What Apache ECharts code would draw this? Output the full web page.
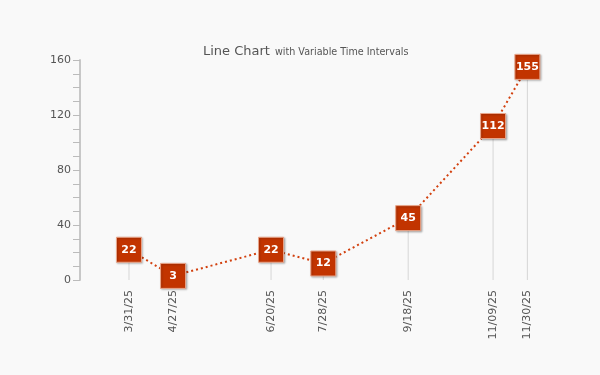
<!DOCTYPE html>
<html>
<head>
<meta charset="utf-8">
<script src="https://cdn.jsdelivr.net/npm/echarts@6/dist/echarts.min.js"></script>
<style>
html,body{margin:0;padding:0;background:#f9f9f9;}
#chart{width:600px;height:375px;}
</style>
</head>
<body>
<div id="chart"></div>
<script>
// Data
const pointDates = ['2025-03-31', '2025-04-27', '2025-06-26', '2025-07-28', '2025-09-18', '2025-11-09', '2025-11-30'];
const tickLabels = ['3/31/25', '4/27/25', '6/20/25', '7/28/25', '9/18/25', '11/09/25', '11/30/25'];
const values = [22, 3, 22, 12, 45, 112, 155];
const yTicks = [0, 40, 80, 120, 160];

function toTime(s) {
  const p = s.split('-').map(Number);
  return Date.UTC(p[0], p[1] - 1, p[2]);
}
const times = pointDates.map(toTime);
const seriesData = times.map((t, i) => [t, values[i]]);

const chart = echarts.init(document.getElementById('chart'));
const FONT = 'DejaVu Sans';
chart.setOption({
  backgroundColor: '#f9f9f9',
  animation: false,
  title: {
    text: '{a|Line Chart} {b|with Variable Time Intervals}',
    left: 198,
    top: 38,
    textStyle: {
      rich: {
        a: { fontFamily: FONT, fontSize: 13, color: '#555', fontWeight: 'normal' },
        b: { fontFamily: FONT, fontSize: 9.6, color: '#555', fontWeight: 'normal' }
      }
    }
  },
  grid: { left: 80, right: 22, top: 60, bottom: 95 },
  xAxis: {
    type: 'value',
    min: toTime('2025-03-01'),
    max: toTime('2025-12-31'),
    axisLine: { show: false },
    axisTick: { show: false },
    splitLine: { show: false },
    axisLabel: {
      customValues: times,
      rotate: 90,
      margin: 10,
      fontFamily: FONT,
      fontSize: 11,
      color: '#555',
      formatter: function (v) {
        const i = times.indexOf(v);
        return i >= 0 ? tickLabels[i] : '';
      }
    }
  },
  yAxis: {
    type: 'value',
    min: yTicks[0],
    max: yTicks[yTicks.length - 1],
    interval: 40,
    axisLine: { show: true, lineStyle: { color: '#c8c8c8', width: 2 } },
    axisTick: { show: true, length: 7, lineStyle: { color: '#bbb', width: 1 } },
    minorTick: { show: true, splitNumber: 4, length: 7, lineStyle: { color: '#bbb', width: 1 } },
    splitLine: { show: false },
    axisLabel: { fontFamily: FONT, fontSize: 11, color: '#555', margin: 9 }
  },
  series: [
    {
      type: 'bar',
      data: seriesData,
      barWidth: 1,
      itemStyle: { color: '#d6d6d6' },
      silent: true,
      z: 1
    },
    {
      type: 'line',
      data: seriesData,
      z: 3,
      symbol: 'rect',
      symbolSize: 25,
      lineStyle: { color: '#d2400e', width: 2, type: [2, 3] },
      itemStyle: {
        color: '#c23400',
        borderColor: '#e9a58a',
        borderWidth: 1,
        shadowBlur: 2,
        shadowColor: 'rgba(0,0,0,0.25)',
        shadowOffsetX: 1,
        shadowOffsetY: 1
      },
      label: {
        show: true,
        position: 'inside',
        color: '#fff',
        fontFamily: FONT,
        fontWeight: 'bold',
        fontSize: 11
      }
    }
  ]
});
</script>
</body>
</html>
